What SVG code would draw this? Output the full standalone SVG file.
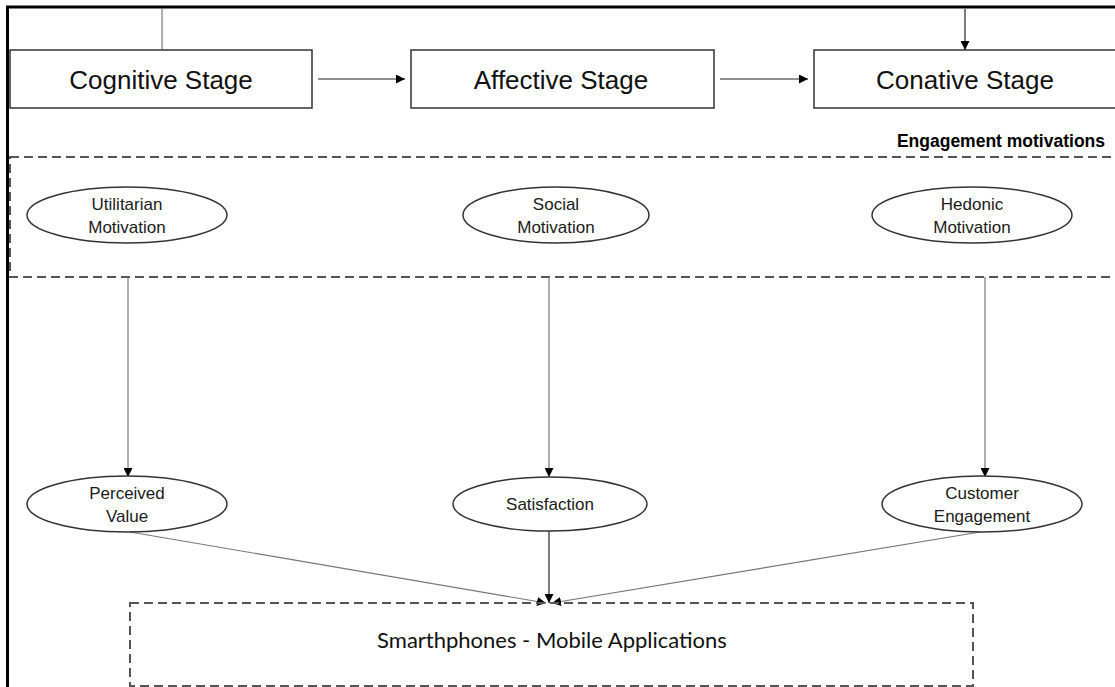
<svg xmlns="http://www.w3.org/2000/svg" width="1115" height="687" viewBox="0 0 1115 687">
<defs>
<marker id="ah" viewBox="0 0 10 10" refX="10" refY="5" markerWidth="9" markerHeight="9" markerUnits="userSpaceOnUse" orient="auto">
<path d="M0,0 L10,5 L0,10 z" fill="#000"/>
</marker>
<style>
.stage{fill:#fff;stroke:#333;stroke-width:1.5}
.stxt{font-family:"Liberation Sans",Arial,sans-serif;font-size:26px;fill:#111;text-anchor:middle}
.ell{fill:#fff;stroke:#333;stroke-width:1.5}
.etxt{font-family:"Liberation Sans",Arial,sans-serif;font-size:17px;fill:#1a1a1a;text-anchor:middle}
.dash{fill:none;stroke:#555;stroke-width:2;stroke-dasharray:9,5}
.con{fill:none;stroke:#777;stroke-width:1.2}
.arr{fill:none;stroke:#222;stroke-width:1.2}
</style>
</defs>
<rect width="1115" height="687" fill="#fff"/>
<g id="frame">
<line x1="6" y1="7" x2="1115" y2="7" stroke="#000" stroke-width="3"/>
<line x1="7.5" y1="6" x2="7.5" y2="687" stroke="#000" stroke-width="3"/>
</g>
<g id="motivations-band">
<rect class="dash" x="10" y="157" width="1120" height="120"/>
<text x="1105" y="147" font-family="Liberation Sans, Arial, sans-serif" font-size="17.5" font-weight="bold" text-anchor="end" fill="#000">Engagement motivations</text>
</g>
<g id="connectors">
<line x1="162" y1="8" x2="162" y2="50" stroke="#777" stroke-width="1.2"/>
<line class="arr" x1="965" y1="9" x2="965" y2="50" marker-end="url(#ah)"/>
<line class="arr" x1="318" y1="79" x2="405" y2="79" marker-end="url(#ah)"/>
<line class="arr" x1="720" y1="79" x2="808" y2="79" marker-end="url(#ah)"/>
<line class="con" x1="128" y1="277" x2="128" y2="477" marker-end="url(#ah)"/>
<line class="con" x1="549" y1="277" x2="549" y2="477" marker-end="url(#ah)"/>
<line class="con" x1="985" y1="277" x2="985" y2="477" marker-end="url(#ah)"/>
<line class="con" x1="130" y1="532" x2="546" y2="603" marker-end="url(#ah)"/>
<line class="arr" x1="549" y1="531" x2="549" y2="603" marker-end="url(#ah)"/>
<line class="con" x1="980" y1="532" x2="552" y2="603" marker-end="url(#ah)"/>
</g>
<g id="cognitive">
<rect class="stage" x="10" y="50" width="302" height="58"/>
<text class="stxt" x="161" y="89">Cognitive Stage</text>
</g>
<g id="affective">
<rect class="stage" x="411" y="50" width="303" height="58"/>
<text class="stxt" x="561" y="89">Affective Stage</text>
</g>
<g id="conative">
<rect class="stage" x="814" y="50" width="400" height="58"/>
<text class="stxt" x="965" y="89">Conative Stage</text>
</g>
<g id="utilitarian">
<ellipse class="ell" cx="127" cy="215" rx="100" ry="28"/>
<text class="etxt" x="127" y="210">Utilitarian</text>
<text class="etxt" x="127" y="233">Motivation</text>
</g>
<g id="social">
<ellipse class="ell" cx="556" cy="215" rx="93" ry="28"/>
<text class="etxt" x="556" y="210">Social</text>
<text class="etxt" x="556" y="233">Motivation</text>
</g>
<g id="hedonic">
<ellipse class="ell" cx="972" cy="215" rx="100" ry="28"/>
<text class="etxt" x="972" y="210">Hedonic</text>
<text class="etxt" x="972" y="233">Motivation</text>
</g>
<g id="perceived-value">
<ellipse class="ell" cx="127" cy="504" rx="100" ry="28"/>
<text class="etxt" x="127" y="499">Perceived</text>
<text class="etxt" x="127" y="522">Value</text>
</g>
<g id="satisfaction">
<ellipse class="ell" cx="550" cy="504" rx="97" ry="27"/>
<text class="etxt" x="550" y="510">Satisfaction</text>
</g>
<g id="customer-engagement">
<ellipse class="ell" cx="982" cy="504" rx="100" ry="28"/>
<text class="etxt" x="982" y="499">Customer</text>
<text class="etxt" x="982" y="522">Engagement</text>
</g>
<g id="smartphones">
<rect class="dash" x="130" y="603" width="843" height="83" stroke-width="1.5"/>
<text x="552" y="648" font-family="Lato, 'Open Sans', sans-serif" font-size="22" text-anchor="middle" fill="#111">Smarthphones - Mobile Applications</text>
</g>
</svg>
